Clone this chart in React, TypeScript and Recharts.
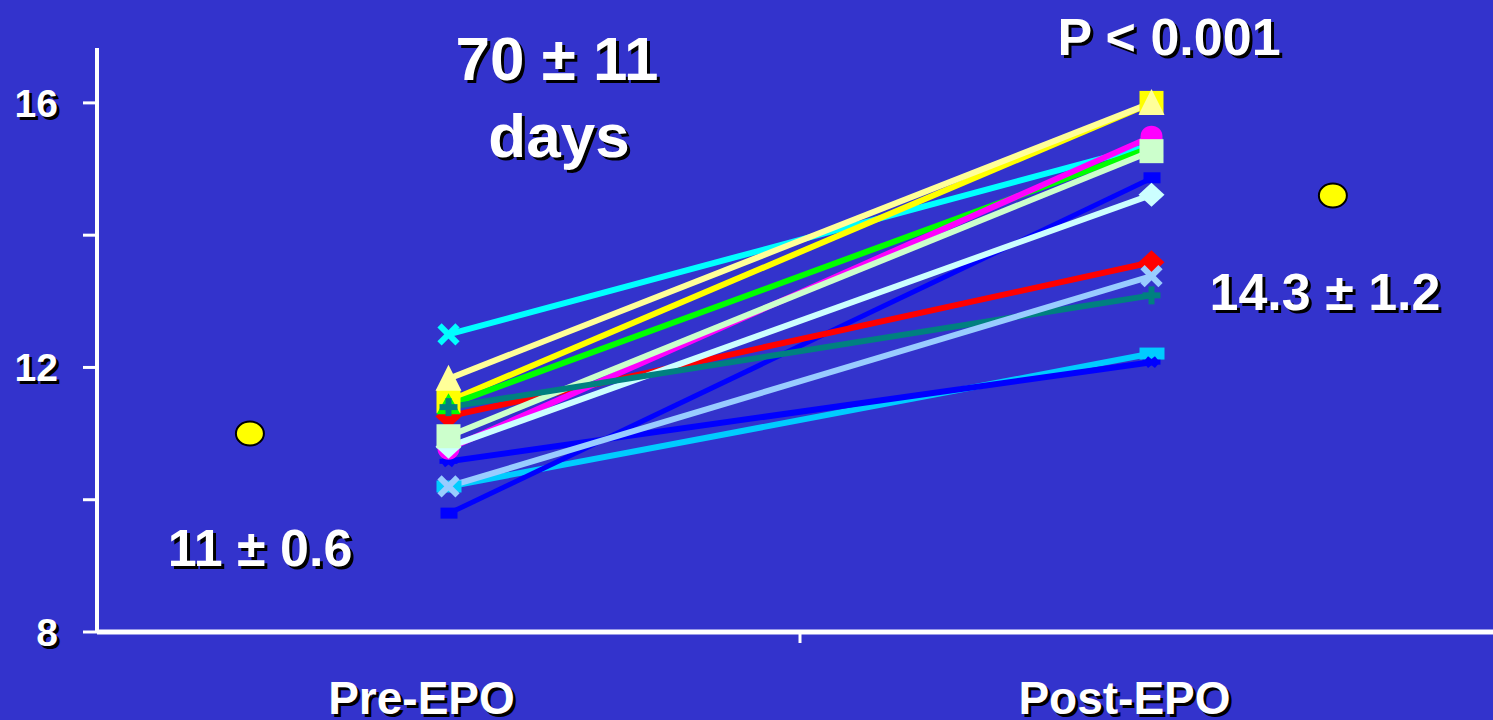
import { ComposedChart, Line, Scatter, XAxis, YAxis } from "recharts";

// phases on the x axis (numeric axis, Pre at 1, Post at 3)
const phases = ["Pre-EPO", "Post-EPO"];
const phaseX = [1, 3];

// haemoglobin per patient
const patients = ["p1", "p2", "p3", "p4", "p5", "p6", "p7", "p8", "p9", "p10", "p11", "p12", "p13"];
const preEpo = [12.5, 10.2, 10.58, 9.79, 11.26, 11.49, 11.43, 10.77, 10.8, 10.96, 11.4, 10.2, 11.83];
const postEpo = [15.36, 12.21, 12.08, 14.86, 13.59, 16.0, 15.33, 15.49, 14.61, 15.27, 13.09, 13.38, 16.0];

// group means (yellow dots), set beside the columns
const meanX = [0.435, 3.516];
const meanValues = [11.0, 14.6];

const yTicks = [8, 10, 12, 14, 16];
const yLabelled = [8, 12, 16];

const font = "'Liberation Sans', Arial, sans-serif";

// look of each patient line
const styles: { color: string; shape: string }[] = [
  { color: "#00FFFF", shape: "x" },
  { color: "#00CCFF", shape: "wide" },
  { color: "#0000FF", shape: "star" },
  { color: "#0000FF", shape: "small" },
  { color: "#FF0000", shape: "diamond" },
  { color: "#FFFF00", shape: "square" },
  { color: "#00FF00", shape: "triangleSm" },
  { color: "#FF00FF", shape: "circle" },
  { color: "#CCFFFF", shape: "diamond" },
  { color: "#CCFFCC", shape: "square" },
  { color: "#008080", shape: "plus" },
  { color: "#99CCFF", shape: "x" },
  { color: "#FFFF99", shape: "triangle" },
];

const chartData = phases.map((name, i) => {
  const row: any = { name, x: phaseX[i] };
  patients.forEach((p, j) => {
    row[p] = i === 0 ? preEpo[j] : postEpo[j];
  });
  return row;
});

const meanData = meanX.map((x, i) => ({ x, mean: meanValues[i] }));

function Marker({ cx, cy, color, shape }: any) {
  if (cx == null || cy == null) return null;
  switch (shape) {
    case "square":
      return <rect x={cx - 12} y={cy - 12} width={24} height={24} fill={color} />;
    case "wide":
      return <rect x={cx - 12} y={cy - 6} width={25} height={12} fill={color} />;
    case "small":
      return <rect x={cx - 8} y={cy - 6} width={17} height={11} fill={color} />;
    case "circle":
      return <circle cx={cx} cy={cy} r={11} fill={color} />;
    case "diamond":
      return <polygon points={`${cx},${cy - 12} ${cx + 13},${cy} ${cx},${cy + 12} ${cx - 13},${cy}`} fill={color} />;
    case "triangle":
      return <polygon points={`${cx},${cy - 14} ${cx + 13},${cy + 12} ${cx - 13},${cy + 12}`} fill={color} />;
    case "triangleSm":
      return <polygon points={`${cx},${cy - 12} ${cx + 12},${cy + 9} ${cx - 12},${cy + 9}`} fill={color} />;
    case "x":
      return (
        <g stroke={color} strokeWidth={6}>
          <line x1={cx - 9} y1={cy - 9} x2={cx + 9} y2={cy + 9} />
          <line x1={cx - 9} y1={cy + 9} x2={cx + 9} y2={cy - 9} />
        </g>
      );
    case "plus":
      return (
        <g stroke={color} strokeWidth={6}>
          <line x1={cx - 9} y1={cy} x2={cx + 9} y2={cy} />
          <line x1={cx} y1={cy - 9} x2={cx} y2={cy + 9} />
        </g>
      );
    case "star":
      return (
        <g stroke={color} strokeWidth={5}>
          <line x1={cx - 9} y1={cy} x2={cx + 9} y2={cy} />
          <line x1={cx - 5} y1={cy - 4} x2={cx + 5} y2={cy + 4} />
          <line x1={cx - 5} y1={cy + 4} x2={cx + 5} y2={cy - 4} />
        </g>
      );
    default:
      return null;
  }
}

// white bold text with a black drop shadow, like the slide
function ShadowText({ x, y, size, anchor = "middle", children }: any) {
  return (
    <g fontFamily={font} fontWeight="bold" fontSize={size} textAnchor={anchor}>
      <text x={x + 3} y={y + 3} fill="#000">{children}</text>
      <text x={x} y={y} fill="#fff">{children}</text>
    </g>
  );
}

function YTick({ x, y, payload }: any) {
  if (!yLabelled.includes(payload.value)) return null;
  return <ShadowText x={x} y={y + 14} size={39} anchor="end">{payload.value}</ShadowText>;
}

function XTick({ x, y, payload }: any) {
  const idx = phaseX.indexOf(payload.value);
  if (idx < 0) {
    return <line x1={x} y1={y} x2={x} y2={y + 11} stroke="#fff" strokeWidth={3} />;
  }
  return <ShadowText x={x - 27} y={y + 82} size={46}>{phases[idx]}</ShadowText>;
}

export default function App() {
  return (
    <div style={{ position: "absolute", left: 0, top: 0, width: 1493, height: 720, background: "#3333CC", overflow: "hidden" }}>
      <ComposedChart width={1503} height={720} data={chartData} margin={{ top: 48, right: 0, bottom: 0, left: 0 }}>
        <XAxis
          dataKey="x"
          type="number"
          domain={[0, 4]}
          ticks={[1, 2, 3]}
          allowDataOverflow
          interval={0}
          height={88}
          axisLine={{ stroke: "#fff", strokeWidth: 5 }}
          tickLine={false}
          tickSize={0}
          tickMargin={0}
          tick={XTick}
        />
        <YAxis
          domain={[8, 16.83]}
          ticks={yTicks}
          allowDataOverflow
          interval={0}
          width={97}
          axisLine={{ stroke: "#fff", strokeWidth: 4 }}
          tickLine={{ stroke: "#fff", strokeWidth: 3 }}
          tickSize={14}
          tickMargin={25}
          tick={YTick}
        />
        {patients.map((p, i) => (
          <Line
            key={p}
            dataKey={p}
            stroke={styles[i].color}
            strokeWidth={i === 3 ? 5 : 6}
            isAnimationActive={false}
            dot={(props: any) => (
              <Marker key={`${p}-${props.index}`} cx={props.cx} cy={props.cy} color={styles[i].color} shape={styles[i].shape} />
            )}
            activeDot={false}
          />
        ))}
        <Scatter
          data={meanData}
          dataKey="mean"
          isAnimationActive={false}
          shape={(props: any) => (
            <ellipse cx={props.cx} cy={props.cy} rx={14} ry={12} fill="#FFFF00" stroke="#000" strokeWidth={2} />
          )}
        />
      </ComposedChart>
      <svg width={1493} height={720} style={{ position: "absolute", left: 0, top: 0, pointerEvents: "none" }}>
        <ShadowText x={557} y={80} size={62}>70 ± 11</ShadowText>
        <ShadowText x={559} y={157} size={62}>days</ShadowText>
        <ShadowText x={1169} y={55} size={52}>P &lt; 0.001</ShadowText>
        <ShadowText x={260} y={566} size={52}>11 ± 0.6</ShadowText>
        <ShadowText x={1325} y={310} size={52}>14.3 ± 1.2</ShadowText>
      </svg>
    </div>
  );
}
